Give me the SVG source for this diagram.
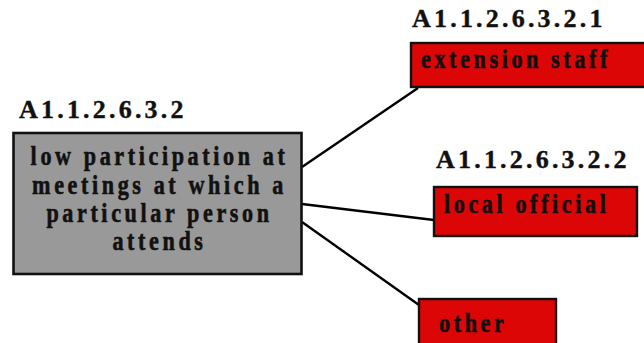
<svg xmlns="http://www.w3.org/2000/svg" width="644" height="343" viewBox="0 0 644 343">
  <style>
    .code { font-family: "Liberation Serif", "Times New Roman", serif; font-weight: bold; font-size: 26px; letter-spacing: 3.2px; fill: #111; stroke: #111; stroke-width: 0.4; }
    .body { font-family: "Liberation Serif", "Times New Roman", serif; font-weight: bold; font-size: 27px; letter-spacing: 4.4px; fill: #111; stroke: #111; stroke-width: 0.6; }
    .grey { fill: #999999; stroke: #111; stroke-width: 2.6; }
    .red { fill: #dd0606; stroke: #111; stroke-width: 2.4; }
    .link { stroke: #000; stroke-width: 2.4; fill: none; }
  </style>

  <!-- connectors -->
  <g id="connectors">
    <line class="link" x1="302" y1="167" x2="418" y2="88"/>
    <line class="link" x1="302" y1="204" x2="434" y2="220"/>
    <line class="link" x1="302" y1="222" x2="419" y2="305"/>
  </g>

  <!-- parent node -->
  <g id="node-A1.1.2.6.3.2">
    <text class="code" x="19" y="118">A1.1.2.6.3.2</text>
    <rect class="grey" x="13.5" y="133" width="288" height="141"/>
    <g text-anchor="middle">
      <text class="body" transform="translate(159.5,165) scale(0.82,1)">low participation at</text>
      <text class="body" transform="translate(159.5,193.5) scale(0.82,1)">meetings at which a</text>
      <text class="body" transform="translate(159.5,221.5) scale(0.82,1)">particular person</text>
      <text class="body" transform="translate(159.5,249.5) scale(0.82,1)">attends</text>
    </g>
  </g>

  <!-- child: extension staff -->
  <g id="node-A1.1.2.6.3.2.1">
    <text class="code" x="412" y="27">A1.1.2.6.3.2.1</text>
    <rect class="red" x="411" y="43" width="300" height="44"/>
    <text class="body" transform="translate(421,68) scale(0.82,1)">extension staff</text>
  </g>

  <!-- child: local official -->
  <g id="node-A1.1.2.6.3.2.2">
    <text class="code" x="436" y="168">A1.1.2.6.3.2.2</text>
    <rect class="red" x="434" y="187" width="203" height="49"/>
    <text class="body" transform="translate(444,213) scale(0.82,1)">local official</text>
  </g>

  <!-- child: other -->
  <g id="node-other">
    <rect class="red" x="419" y="299" width="137" height="60"/>
    <text class="body" transform="translate(439,332) scale(0.82,1)">other</text>
  </g>
</svg>
